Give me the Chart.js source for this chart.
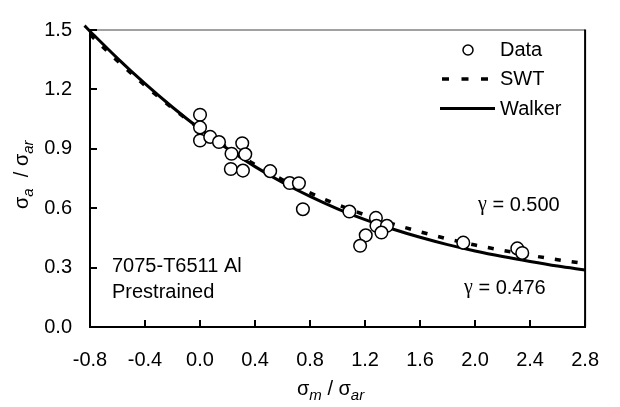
<!DOCTYPE html>
<html>
<head>
<meta charset="utf-8">
<script src="https://cdn.jsdelivr.net/npm/chart.js@4/dist/chart.umd.min.js"></script>
<style>
html,body{margin:0;padding:0;background:#fff;}
#wrap{width:620px;height:407px;position:relative;}
</style>
</head>
<body>
<div id="wrap"><canvas id="c" width="620" height="407"></canvas></div>
<script>
// ---- data ----
const dataX = [0.0, 0.0, 0.0, 0.074, 0.138, 0.229, 0.307, 0.329, 0.224, 0.312, 0.51, 0.652, 0.719, 0.748, 1.086, 1.279, 1.283, 1.359, 1.319, 1.205, 1.164, 1.914, 2.307, 2.343];
const dataY = [1.072, 1.008, 0.942, 0.96, 0.934, 0.875, 0.928, 0.872, 0.798, 0.79, 0.787, 0.727, 0.726, 0.595, 0.583, 0.551, 0.511, 0.511, 0.477, 0.463, 0.41, 0.426, 0.397, 0.374];

const swtX = [-0.8, -0.6, -0.4, -0.2, 0.0, 0.2, 0.4, 0.6, 0.8, 1.0, 1.2, 1.4, 1.6, 1.8, 2.0, 2.2, 2.4, 2.6, 2.8];
const swtY = [1.477, 1.344, 1.220, 1.105, 1.0, 0.905, 0.820, 0.744, 0.677, 0.618, 0.566, 0.521, 0.481, 0.445, 0.414, 0.387, 0.362, 0.340, 0.320];

const walkerX = [-0.84, -0.8, -0.6, -0.4, -0.2, 0.0, 0.2, 0.4, 0.6, 0.8, 1.0, 1.2, 1.4, 1.6, 1.8, 2.0, 2.2, 2.4, 2.6, 2.8, 2.84];
const walkerY = [1.522, 1.494, 1.357, 1.229, 1.110, 1.0, 0.900, 0.810, 0.730, 0.660, 0.597, 0.542, 0.495, 0.453, 0.416, 0.384, 0.356, 0.331, 0.308, 0.288, 0.284];

const xTicks = [-0.8, -0.4, 0.0, 0.4, 0.8, 1.2, 1.6, 2.0, 2.4, 2.8];
const yTicks = [0.0, 0.3, 0.6, 0.9, 1.2, 1.5];

const legendLabels = ['Data', 'SWT', 'Walker'];
const gammaSWT = ['γ', ' = 0.500'];
const gammaWalker = ['γ', ' = 0.476'];
const materialLines = ['7075-T6511 Al', 'Prestrained'];

const FONT = '"Liberation Sans", Arial, sans-serif';
const SERIF = '"Liberation Serif", "Times New Roman", serif';
const FS = 20;

function pts(xs, ys) { return xs.map((x, i) => ({x: x, y: ys[i]})); }
function fmt(v) { return (Math.abs(v) < 1e-9 ? 0 : v).toFixed(1); }

const decor = {
  id: 'decor',
  afterDraw(chart) {
    const ctx = chart.ctx;
    const a = chart.chartArea;
    const xs = chart.scales.x, ys = chart.scales.y;
    ctx.save();
    // frame top & right
    ctx.strokeStyle = '#444';
    ctx.lineWidth = 1.2;
    ctx.beginPath(); ctx.moveTo(a.left, a.top); ctx.lineTo(a.right, a.top); ctx.stroke();
    ctx.strokeStyle = '#000';
    ctx.lineWidth = 2;
    ctx.beginPath(); ctx.moveTo(a.right, a.top - 0.5); ctx.lineTo(a.right, a.bottom); ctx.stroke();
    // inside tick marks
    ctx.lineWidth = 2;
    xTicks.forEach(v => {
      const px = Math.round(xs.getPixelForValue(v));
      ctx.beginPath(); ctx.moveTo(px, a.bottom); ctx.lineTo(px, a.bottom - 7); ctx.stroke();
    });
    yTicks.forEach(v => {
      const py = Math.round(ys.getPixelForValue(v));
      ctx.beginPath(); ctx.moveTo(a.left, py); ctx.lineTo(a.left + 7, py); ctx.stroke();
    });
    // legend
    ctx.font = FS + 'px ' + FONT;
    ctx.textBaseline = 'middle';
    ctx.textAlign = 'left';
    ctx.beginPath(); ctx.arc(468, 50, 5, 0, Math.PI * 2);
    ctx.fillStyle = '#fff'; ctx.fill();
    ctx.lineWidth = 1.5; ctx.strokeStyle = '#000'; ctx.stroke();
    ctx.fillStyle = '#000';
    ctx.fillText(legendLabels[0], 500, 50);
    ctx.lineWidth = 3.5;
    ctx.setLineDash([7, 12.5]);
    ctx.beginPath(); ctx.moveTo(442, 79); ctx.lineTo(490, 79); ctx.stroke();
    ctx.setLineDash([]);
    ctx.fillText(legendLabels[1], 500, 79);
    ctx.lineWidth = 3;
    ctx.beginPath(); ctx.moveTo(440, 108.5); ctx.lineTo(495, 108.5); ctx.stroke();
    ctx.fillText(legendLabels[2], 500, 109);

    // annotations
    function gammaText(parts, x, y) {
      ctx.font = FS + 'px ' + SERIF;
      ctx.fillText(parts[0], x, y);
      const w = ctx.measureText(parts[0]).width;
      ctx.font = FS + 'px ' + FONT;
      ctx.fillText(parts[1], x + w, y);
    }
    gammaText(gammaSWT, 478, 205);
    gammaText(gammaWalker, 464, 288);
    ctx.font = FS + 'px ' + FONT;
    ctx.fillText(materialLines[0], 112, 266);
    ctx.fillText(materialLines[1], 112, 292);

    // axis titles
    function drawTitle(x, y, parts) {
      let cx = x;
      parts.forEach(p => {
        ctx.font = (p.it ? 'italic ' : '') + p.size + 'px ' + FONT;
        ctx.fillText(p.t, cx, y + (p.dy || 0));
        cx += ctx.measureText(p.t).width;
      });
    }
    ctx.textBaseline = 'alphabetic';
    drawTitle(297, 395, [
      {t: 'σ', size: FS}, {t: 'm', size: 15, it: true, dy: 5},
      {t: ' / σ', size: FS}, {t: 'ar', size: 15, it: true, dy: 5}
    ]);
    ctx.save();
    ctx.translate(28, 209);
    ctx.rotate(-Math.PI / 2);
    drawTitle(0, 0, [
      {t: 'σ', size: FS}, {t: 'a', size: 15, it: true, dy: 5},
      {t: '  / σ', size: FS}, {t: 'ar', size: 15, it: true, dy: 5}
    ]);
    ctx.restore();
    ctx.restore();
  }
};

new Chart(document.getElementById('c'), {
  type: 'scatter',
  data: {
    datasets: [
      {
        label: legendLabels[0], data: pts(dataX, dataY), order: 0,
        pointStyle: 'circle', pointRadius: 6.3, pointBackgroundColor: '#fff',
        pointBorderColor: '#000', pointBorderWidth: 1.5, showLine: false
      },
      {
        label: legendLabels[1], data: pts(swtX, swtY), order: 2, showLine: true,
        borderColor: '#000', borderWidth: 3.5, borderDash: [6, 11], pointRadius: 0,
        tension: 0.4, cubicInterpolationMode: 'monotone', fill: false, clip: false
      },
      {
        label: legendLabels[2], data: pts(walkerX, walkerY), order: 1, showLine: true,
        borderColor: '#000', borderWidth: 3, pointRadius: 0,
        tension: 0.4, cubicInterpolationMode: 'monotone', fill: false, clip: false
      }
    ]
  },
  options: {
    responsive: false,
    animation: false,
    devicePixelRatio: 1,
    layout: {padding: {left: 0, top: 15, right: 26, bottom: 0}},
    plugins: {legend: {display: false}, tooltip: {enabled: false}},
    scales: {
      x: {
        type: 'linear', min: -0.8, max: 2.8,
        afterBuildTicks: s => { s.ticks = xTicks.map(v => ({value: v})); },
        afterFit: s => { s.height = 80; },
        grid: {display: false, drawTicks: false},
        border: {display: true, color: '#000', width: 2},
        ticks: {color: '#000', font: {family: FONT, size: FS}, padding: 21, maxRotation: 0,
                callback: v => fmt(v)}
      },
      y: {
        type: 'linear', min: 0, max: 1.5,
        afterBuildTicks: s => { s.ticks = yTicks.map(v => ({value: v})); },
        afterFit: s => { s.width = 90; },
        grid: {display: false, drawTicks: false},
        border: {display: true, color: '#000', width: 2},
        ticks: {color: '#000', font: {family: FONT, size: FS}, padding: 18,
                callback: v => fmt(v)}
      }
    }
  },
  plugins: [decor]
});
</script>
</body>
</html>
